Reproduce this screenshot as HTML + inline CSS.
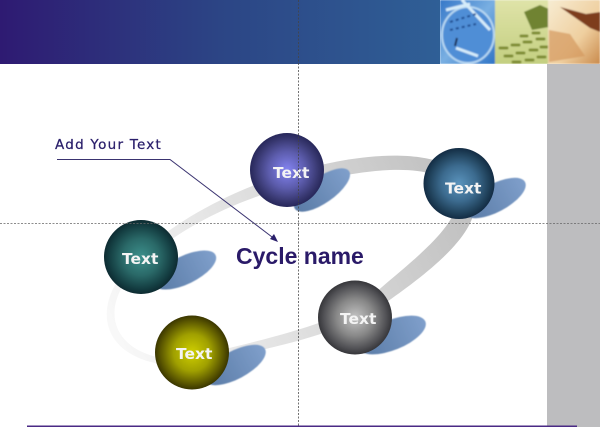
<!DOCTYPE html>
<html><head><meta charset="utf-8"><style>
html,body{margin:0;padding:0;background:#fff}
svg{display:block}
</style></head><body>
<svg xmlns="http://www.w3.org/2000/svg" width="600" height="427" viewBox="0 0 600 427">
<defs>
<linearGradient id="hd" x1="0" x2="1" y1="0" y2="0"><stop offset="0" stop-color="#2e1a72"/><stop offset=".5" stop-color="#2c4585"/><stop offset="1" stop-color="#2f5f96"/></linearGradient>
<linearGradient id="ring" gradientUnits="userSpaceOnUse" x1="110" y1="340" x2="470" y2="180"><stop offset="0" stop-color="#f9f9f9"/><stop offset=".3" stop-color="#e8e8e8"/><stop offset=".65" stop-color="#d4d4d4"/><stop offset="1" stop-color="#bebebe"/></linearGradient>
<linearGradient id="sh" x1="0" x2="1" y1="0" y2="0"><stop offset="0" stop-color="#5a7ba6"/><stop offset="1" stop-color="#7f9fcb"/></linearGradient>
<radialGradient id="s1"><stop offset="0" stop-color="#8484f2"/><stop offset=".5" stop-color="#5c5cac"/><stop offset=".85" stop-color="#37376f"/><stop offset="1" stop-color="#27275a"/></radialGradient>
<radialGradient id="s2"><stop offset="0" stop-color="#5a93bc"/><stop offset=".5" stop-color="#3c6b8f"/><stop offset=".85" stop-color="#1f4059"/><stop offset="1" stop-color="#132c44"/></radialGradient>
<radialGradient id="s3"><stop offset="0" stop-color="#3d908c"/><stop offset=".5" stop-color="#2a6968"/><stop offset=".85" stop-color="#143e42"/><stop offset="1" stop-color="#0d2b31"/></radialGradient>
<radialGradient id="s4"><stop offset="0" stop-color="#cfcf00"/><stop offset=".5" stop-color="#a0a000"/><stop offset=".85" stop-color="#5a5600"/><stop offset="1" stop-color="#3a3600"/></radialGradient>
<radialGradient id="s5"><stop offset="0" stop-color="#c4c4c4"/><stop offset=".5" stop-color="#888"/><stop offset=".85" stop-color="#505054"/><stop offset="1" stop-color="#36363a"/></radialGradient>
<linearGradient id="i1" x1="0" y1="0" x2="1" y2="1"><stop offset="0" stop-color="#3577c8"/><stop offset=".5" stop-color="#79afe2"/><stop offset="1" stop-color="#2f74c6"/></linearGradient>
<linearGradient id="i2" x1="0" y1="0" x2="0" y2="1"><stop offset="0" stop-color="#dfe3a8"/><stop offset="1" stop-color="#c3cf80"/></linearGradient>
<linearGradient id="i3" x1="0" y1="0" x2="1" y2="1"><stop offset="0" stop-color="#f7ecd2"/><stop offset=".6" stop-color="#efcf9f"/><stop offset="1" stop-color="#c98a4c"/></linearGradient>
<filter id="b1" x="-5%" y="-5%" width="110%" height="110%"><feGaussianBlur stdDeviation=".9"/></filter>
<filter id="b0" x="-10%" y="-10%" width="120%" height="120%"><feGaussianBlur stdDeviation=".5"/></filter>
<clipPath id="cp"><rect x="440" width="160" height="64"/></clipPath>
</defs>
<rect width="600" height="427" fill="#fff"/>
<rect x="547" y="64" width="53" height="363" fill="#bdbdbf"/>
<rect width="440" height="64" fill="url(#hd)"/>
<g clip-path="url(#cp)"><g filter="url(#b1)">
<rect x="440" width="55" height="64" fill="url(#i1)"/>
<ellipse cx="468" cy="35" rx="26" ry="28" fill="#4f8ed6" stroke="#b8d8f2" stroke-width="2"/>
<path d="M446 10L470 4M462 0L490 30M456 48L478 56" stroke="#d6ecfa" stroke-width="3" fill="none"/>
<path d="M450 22L476 14M450 30L476 24" stroke="#1f4c90" stroke-width="2" stroke-dasharray="3 3"/>
<path d="M457 38L455 46" stroke="#1a2a50" stroke-width="2"/>
<rect x="495" width="53" height="64" fill="url(#i2)"/>
<path d="M524 12L540 5L549 9V27L532 30Z" fill="#6f8330"/>
<g stroke="#7e8c30" stroke-width="3" stroke-linecap="round"><path d="M500 48h7M512 45h7M524 42h7M537 39h7M505 56h7M517 53h7M530 50h7M541 47h6M513 62h7M526 60h7M538 57h7M521 36h6M533 33h6"/></g>
<rect x="548" width="52" height="64" fill="url(#i3)"/>
<path d="M560 7L586 14L600 12V32L590 28Z" fill="#7e3d1c"/>
<path d="M549 30L570 34L585 56L549 62Z" fill="#d4995e" opacity=".7"/>
</g></g>
<path fill-rule="evenodd" fill="url(#ring)" d="M180 366C115 364 92 325 116 283C148 232 240 180 330 163C380 152 458 148 472 190C490 228 425 275 384 304C342 334 270 350 180 366ZM180 360C125 358 101 325 122 287C155 238 240 192 330 178C380 168 440 162 456 192C466 222 410 262 374 294C338 324 270 338 180 360Z"/>
<g fill="url(#sh)" filter="url(#b0)">
<ellipse cx="322" cy="190" rx="33" ry="13" transform="rotate(-35 322 190)"/>
<ellipse cx="495" cy="198" rx="34" ry="14" transform="rotate(-28 495 198)"/>
<ellipse cx="185" cy="270" rx="34" ry="14" transform="rotate(-26 185 270)"/>
<ellipse cx="235" cy="365" rx="34" ry="14" transform="rotate(-28 235 365)"/>
<ellipse cx="392" cy="335" rx="36" ry="15" transform="rotate(-22 392 335)"/>
</g>
<circle cx="287" cy="170" r="37" fill="url(#s1)"/>
<circle cx="459" cy="183.500" r="35.500" fill="url(#s2)"/>
<circle cx="141" cy="257" r="37" fill="url(#s3)"/>
<circle cx="192" cy="352.500" r="37" fill="url(#s4)"/>
<circle cx="355" cy="317.500" r="37" fill="url(#s5)"/>
<g font-family="'DejaVu Sans',sans-serif" font-weight="bold" font-size="15.500" fill="#f4f4f4">
<text x="273" y="178">Text</text>
<text x="445" y="193.500">Text</text>
<text x="122" y="264">Text</text>
<text x="176" y="359">Text</text>
<text x="340" y="324">Text</text>
</g>
<text x="55" y="149" font-family="'DejaVu Sans',sans-serif" font-size="13.500" letter-spacing="1.250" fill="#2a1f6b" stroke="#2a1f6b" stroke-width=".25">Add Your Text</text>
<path d="M57 159.500H170L276 240" fill="none" stroke="#3a3370" stroke-width="1"/>
<path d="M278 242L270 239L274 234Z" fill="#2a1f6b"/>
<text x="236" y="264" font-family="'Liberation Sans',sans-serif" font-weight="bold" font-size="23" fill="#2a1a68">Cycle name</text>
<g stroke="#666" stroke-width="1" stroke-dasharray="2 1.500" opacity=".75"><path d="M0 223.500H600"/><path d="M298.500 0V427" stroke="#444"/></g>
<rect x="27" y="425.500" width="550" height="1.500" fill="#4a2a85"/>
</svg>
</body></html>
